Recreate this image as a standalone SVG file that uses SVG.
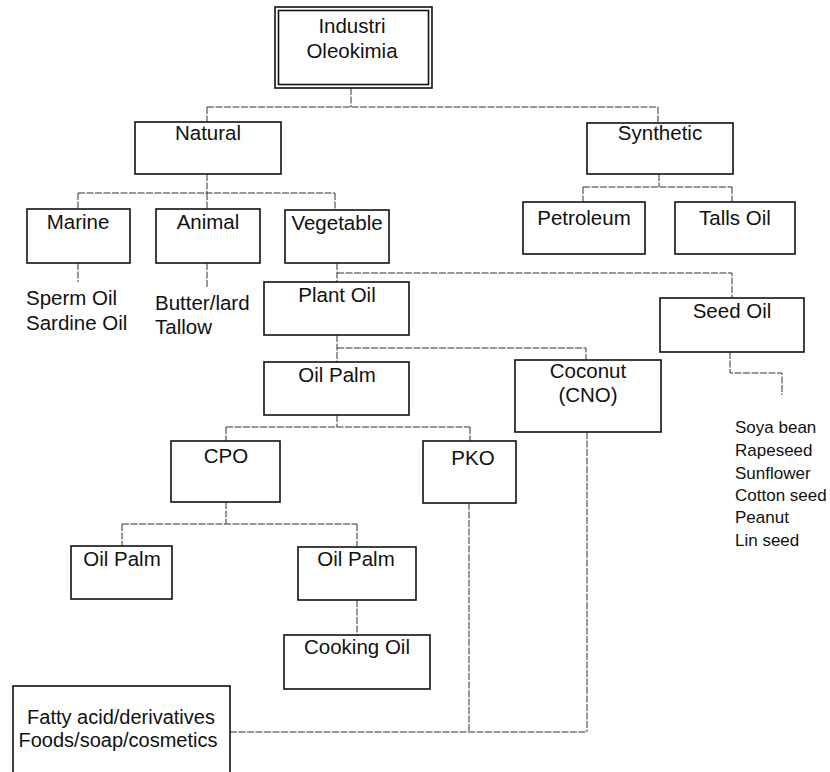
<svg xmlns="http://www.w3.org/2000/svg" width="830" height="772" viewBox="0 0 830 772">
<style>
.box{fill:#fff;stroke:#111;stroke-width:1.6}
.t{font-family:"Liberation Sans",Arial,sans-serif;font-size:20.5px;fill:#111;text-anchor:middle}
.l{font-family:"Liberation Sans",Arial,sans-serif;font-size:20.5px;fill:#111}
.s{font-family:"Liberation Sans",Arial,sans-serif;font-size:17px;fill:#111}
.f{font-family:"Liberation Sans",Arial,sans-serif;font-size:20px;fill:#111;text-anchor:middle}
.c{fill:none;stroke:#333;stroke-width:1;stroke-dasharray:7 1.5}
</style>
<rect width="830" height="772" fill="#fff"/>
<g id="connectors">
<path class="c" d="M351 88V107M207 107H658M207 107V122M658 107V123"/>
<path class="c" d="M207 174V193M78 193H335M78 193V209M207 193V209M335 193V210"/>
<path class="c" d="M659 174V187M583 187H732M583 187V202M732 187V202"/>
<path class="c" d="M78 263V282M207 263V287"/>
<path class="c" d="M337 263V282M337 273H732V298"/>
<path class="c" d="M730 352V373H782V395"/>
<path class="c" d="M337 335V362M337 348H586V360"/>
<path class="c" d="M337 415V427M226 427H470M226 427V441M470 427V441"/>
<path class="c" d="M226 502V524M122 524H357M122 524V546M357 524V547"/>
<path class="c" d="M357 600V635"/>
<path class="c" d="M469 503V732M587 432V732M230 732H587"/>
</g>
<g id="industri">
<rect class="box" x="275" y="7" width="157" height="81"/>
<rect class="box" x="278.5" y="10.5" width="150" height="74" stroke-width="1.2"/>
<text class="t" x="352" y="33">Industri</text>
<text class="t" x="352" y="58">Oleokimia</text>
</g>
<g id="natural"><rect class="box" x="135" y="122" width="146" height="52"/><text class="t" x="208" y="140">Natural</text></g>
<g id="synthetic"><rect class="box" x="587" y="123" width="146" height="51"/><text class="t" x="660" y="140">Synthetic</text></g>
<g id="marine"><rect class="box" x="27" y="209" width="103" height="54"/><text class="t" x="78" y="229">Marine</text></g>
<g id="animal"><rect class="box" x="156" y="209" width="104" height="54"/><text class="t" x="208" y="229">Animal</text></g>
<g id="vegetable"><rect class="box" x="285" y="210" width="104" height="53"/><text class="t" x="337" y="230">Vegetable</text></g>
<g id="petroleum"><rect class="box" x="523" y="202" width="122" height="52"/><text class="t" x="584" y="225">Petroleum</text></g>
<g id="talls-oil"><rect class="box" x="675" y="202" width="120" height="52"/><text class="t" x="735" y="225">Talls Oil</text></g>
<g id="marine-items"><text class="l" x="26" y="305">Sperm Oil</text><text class="l" x="26" y="330">Sardine Oil</text></g>
<g id="animal-items"><text class="l" x="155" y="310">Butter/lard</text><text class="l" x="155" y="334">Tallow</text></g>
<g id="plant-oil"><rect class="box" x="264" y="282" width="145" height="53"/><text class="t" x="337" y="302">Plant Oil</text></g>
<g id="seed-oil"><rect class="box" x="660" y="298" width="144" height="54"/><text class="t" x="732" y="318">Seed Oil</text></g>
<g id="seed-items">
<text class="s" x="735" y="433">Soya bean</text>
<text class="s" x="735" y="456">Rapeseed</text>
<text class="s" x="735" y="479">Sunflower</text>
<text class="s" x="735" y="501">Cotton seed</text>
<text class="s" x="735" y="523">Peanut</text>
<text class="s" x="735" y="546">Lin seed</text>
</g>
<g id="oil-palm"><rect class="box" x="264" y="362" width="145" height="53"/><text class="t" x="337" y="382">Oil Palm</text></g>
<g id="coconut"><rect class="box" x="515" y="360" width="146" height="72"/><text class="t" x="588" y="378">Coconut</text><text class="t" x="588" y="402">(CNO)</text></g>
<g id="cpo"><rect class="box" x="171" y="441" width="109" height="61"/><text class="t" x="226" y="463">CPO</text></g>
<g id="pko"><rect class="box" x="423" y="441" width="93" height="62"/><text class="t" x="473" y="465">PKO</text></g>
<g id="oil-palm-left"><rect class="box" x="71" y="546" width="101" height="53"/><text class="t" x="122" y="566">Oil Palm</text></g>
<g id="oil-palm-right"><rect class="box" x="298" y="547" width="118" height="53"/><text class="t" x="356" y="566">Oil Palm</text></g>
<g id="cooking-oil"><rect class="box" x="284" y="635" width="146" height="54"/><text class="t" x="357" y="654">Cooking Oil</text></g>
<g id="fatty-acid"><rect class="box" x="13" y="686" width="217" height="100"/><text class="f" x="121" y="724">Fatty acid/derivatives</text><text class="f" x="118" y="747">Foods/soap/cosmetics</text></g>
</svg>
